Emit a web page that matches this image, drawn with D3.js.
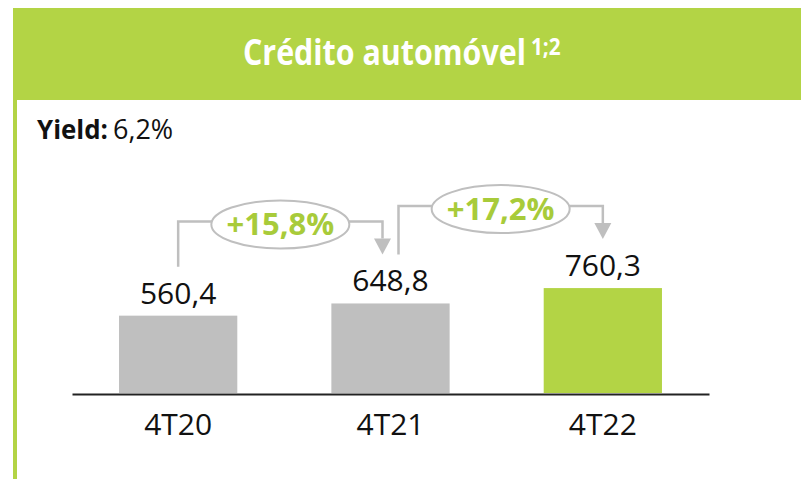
<!DOCTYPE html>
<html>
<head>
<meta charset="utf-8">
<script src="https://cdn.jsdelivr.net/npm/d3@7"></script>
<style>
  body { margin: 0; background: #fff; }
  text { font-family: "Open Sans", "Noto Sans", sans-serif; }
</style>
</head>
<body>
<svg class="chart-svg"></svg>
<script>
// chart data
const categories = ["4T20", "4T21", "4T22"];
const values = [560.4, 648.8, 760.3];
const valueLabels = ["560,4", "648,8", "760,3"];
const growthLabels = ["+15,8%", "+17,2%"];

const width = 801, height = 479;
const green = "#b3d445";
const gray = "#bfbfbf";

const svg = d3.select('.chart-svg')
  .attr('width', width)
  .attr('height', height);

// header band + left border
svg.append('rect')
  .attr('x', 13).attr('y', 8)
  .attr('width', width - 13).attr('height', 92)
  .attr('fill', green);

svg.append('rect')
  .attr('x', 13).attr('y', 100)
  .attr('width', 4).attr('height', height - 100)
  .attr('fill', green);

// title is a condensed bold face in the original, so squeeze it horizontally
const title = svg.append('text')
  .attr('fill', '#fff')
  .attr('font-weight', 700)
  .attr('font-size', 35)
  .text('Crédito automóvel');
const titleW = title.node().getComputedTextLength();
title.attr('transform', `translate(243,65) scale(${283 / titleW},1)`);

svg.append('text')
  .attr('fill', '#fff')
  .attr('font-weight', 700)
  .attr('font-size', 23)
  .attr('transform', 'translate(531,55) scale(0.9,1)')
  .text('1;2');

const yieldText = svg.append('text')
  .attr('x', 37).attr('y', 139)
  .attr('font-size', 27)
  .attr('fill', '#111');
yieldText.append('tspan').text('Yield:').attr('font-weight', 700)
  .attr('textLength', 71).attr('lengthAdjust', 'spacingAndGlyphs');
yieldText.append('tspan').text('6,2%').attr('dx', 5);

// scales
const x = d3.scaleBand()
  .domain(categories)
  .range([72, 709])
  .paddingInner(0.443)
  .paddingOuter(0.2215);

const y = d3.scaleLinear()
  .domain([0, 1000])
  .range([393, 255]);

const cx = d => x(d) + x.bandwidth() / 2;

// bars
svg.selectAll('.bar')
  .data(values)
  .enter()
  .append('rect')
  .attr('class', 'bar')
  .attr('x', (d, i) => x(categories[i]))
  .attr('y', d => y(d))
  .attr('width', x.bandwidth())
  .attr('height', d => y(0) - y(d))
  .attr('fill', (d, i) => i === values.length - 1 ? green : gray);

// value labels
svg.selectAll('.value-label')
  .data(values)
  .enter()
  .append('text')
  .attr('class', 'value-label')
  .attr('x', (d, i) => cx(categories[i]))
  .attr('y', d => y(d) - 12)
  .attr('text-anchor', 'middle')
  .attr('font-size', 30)
  .attr('fill', '#111')
  .text((d, i) => valueLabels[i]);

// x axis
const xAxis = d3.axisBottom(x).tickSize(0).tickPadding(20);
const axisG = svg.append('g')
  .attr('transform', `translate(0,${y(0) + 1})`)
  .call(xAxis);
axisG.select('.domain')
  .attr('stroke', '#222')
  .attr('stroke-width', 2);
axisG.selectAll('text')
  .attr('font-size', 30)
  .attr('font-family', '"Open Sans", "Noto Sans", sans-serif')
  .attr('fill', '#111');

// growth arrows between consecutive bars
growthLabels.forEach((g, i) => {
  const a = categories[i], b = categories[i + 1];
  const x0 = cx(a) + (i > 0 ? 8 : 0);
  const x1 = cx(b) - (i + 1 < categories.length - 1 ? 8 : 0);
  const startY = y(values[i]) - 12 - 37;
  const tipY = y(values[i + 1]) - 12 - 37;
  const hy = Math.min(y(values[i]), y(values[i + 1])) - 12 - 70;
  const headH = 16;

  svg.append('path')
    .attr('d', `M${x0},${startY} V${hy} H${x1} V${tipY - headH}`)
    .attr('fill', 'none')
    .attr('stroke', gray)
    .attr('stroke-width', 2.5);

  svg.append('path')
    .attr('d', `M${x1 - 8.5},${tipY - headH} L${x1 + 8.5},${tipY - headH} L${x1},${tipY} Z`)
    .attr('fill', gray);

  const ex = (x0 + x1) / 2;
  svg.append('ellipse')
    .attr('cx', ex).attr('cy', hy + 3)
    .attr('rx', 69).attr('ry', 24)
    .attr('fill', '#fff')
    .attr('stroke', gray)
    .attr('stroke-width', 2);

  svg.append('text')
    .attr('x', ex).attr('y', hy + 14)
    .attr('text-anchor', 'middle')
    .attr('font-size', 31)
    .attr('font-weight', 700)
    .attr('fill', '#a8cb3a')
    .text(g);
});
</script>
</body>
</html>
